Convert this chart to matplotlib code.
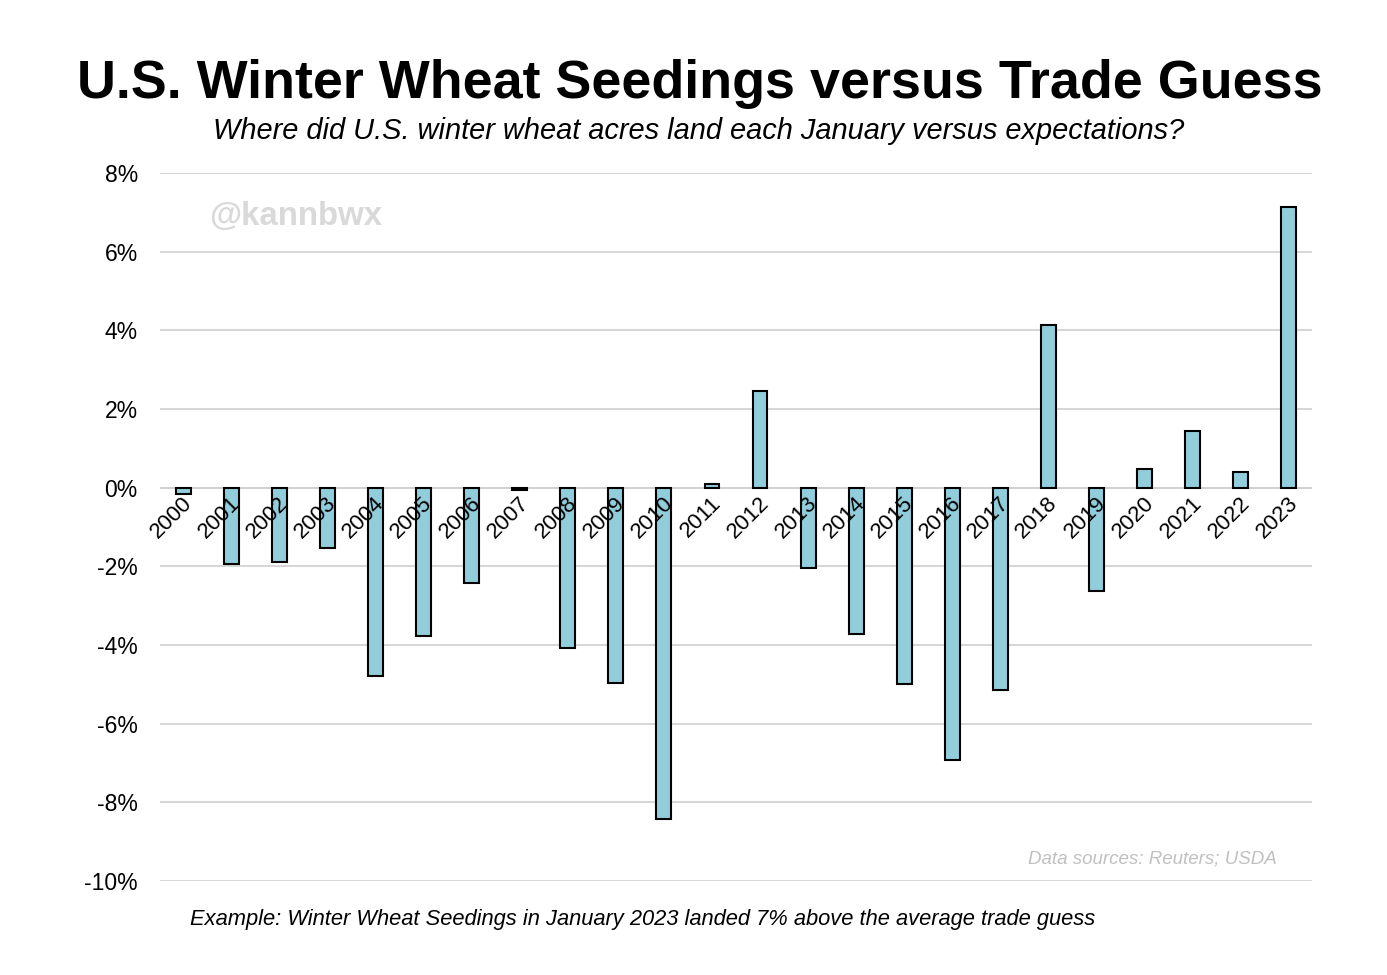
import numpy as np
import matplotlib.pyplot as plt

plt.rcParams['font.family'] = ['Liberation Sans', 'DejaVu Sans']

years = list(range(2000, 2024))
surprise = [-0.15, -1.93, -1.88, -1.53, -4.78, -3.76, -2.42, -0.07, -4.07, -4.96,
            -8.42, 0.10, 2.47, -2.03, -3.71, -4.98, -6.92, -5.14, 4.14, -2.62,
            0.48, 1.45, 0.41, 7.14]
yticks = [-10, -8, -6, -4, -2, 0, 2, 4, 6, 8]

fig = plt.figure(figsize=(13.87, 9.75), dpi=100)
ax = fig.add_axes([160/1387, 1 - 881/975, (1312 - 160)/1387, (881 - 173)/975])

x = np.arange(len(years))
ax.bar(x, surprise, width=0.31, color='#92cddc', edgecolor='black', linewidth=1.5, zorder=3)

ax.set_xlim(-0.48, len(years) - 0.52)
ax.set_ylim(-10, 8)
ax.set_yticks(yticks)
ax.set_yticklabels([f'{v}%' for v in yticks], fontsize=16.5)
ax.tick_params(axis='y', length=0, pad=16)
ax.set_xticks([])
ax.grid(axis='y', color='#d0d0d0', linewidth=1.2, zorder=0)
ax.axhline(0, color='#d0d0d0', linewidth=1.2, zorder=1)
for s in ax.spines.values():
    s.set_visible(False)

# year labels sit on the zero line, like the Excel original
for xi, yr in zip(x, years):
    ax.text(xi - 0.03, -0.12, str(yr), rotation=45, ha='right', va='top',
            rotation_mode='anchor', fontsize=16, zorder=4)

fig.text(700/1387, 1 - 84/975, 'U.S. Winter Wheat Seedings versus Trade Guess',
         ha='center', va='center', fontsize=38.8, fontweight='bold')
fig.text(699/1387, 1 - 131/975, 'Where did U.S. winter wheat acres land each January versus expectations?',
         ha='center', va='center', fontsize=20.9, style='italic')
fig.text(209/1387, 1 - 216/975, '@kannbwx', ha='left', va='center', fontsize=23.8,
         fontweight='bold', color='#d9d9d9')
fig.text(1277/1387, 1 - 859/975, 'Data sources: Reuters; USDA', ha='right', va='center',
         fontsize=13.5, style='italic', color='#c0c0c0')
fig.text(190/1387, 1 - 919/975,
         'Example: Winter Wheat Seedings in January 2023 landed 7% above the average trade guess',
         ha='left', va='center', fontsize=15.75, style='italic')

fig.savefig('out.png', dpi=100, facecolor='white')
